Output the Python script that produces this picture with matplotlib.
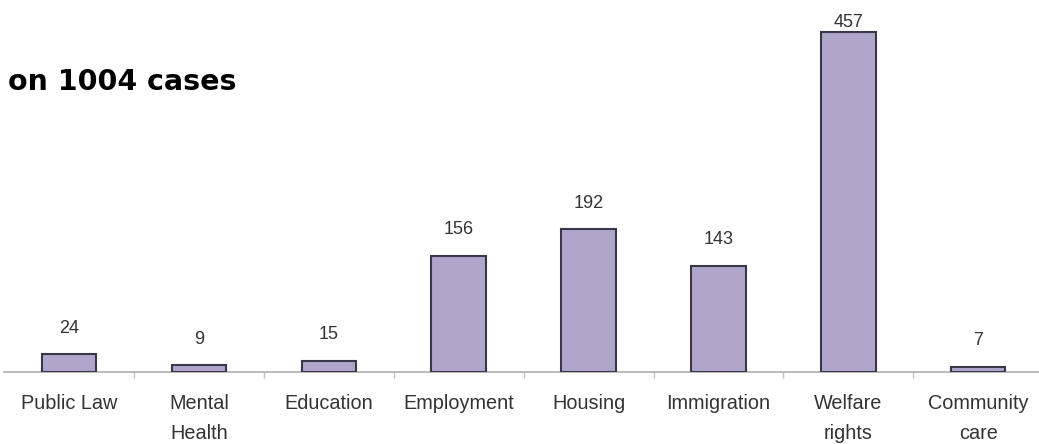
import matplotlib
matplotlib.use("Agg")
import matplotlib.pyplot as plt
import numpy as np

categories = ["Public Law", "Mental\nHealth", "Education", "Employment", "Housing",
              "Immigration", "Welfare\nrights", "Community\ncare"]
values = [24, 9, 15, 156, 192, 143, 457, 7]
title = "on 1004 cases"

fig = plt.figure(figsize=(10.39, 4.44), dpi=100)
ax = fig.add_axes([0.004, 0.162, 1.0, 0.838])
x = np.arange(len(categories))
ax.bar(x, values, width=0.42, color="#b0a6cc", edgecolor="#3a3848", linewidth=1.5, zorder=3)
for xi, v in zip(x, values):
    ax.text(xi, min(v + 35, 470), str(v), ha="center", va="center", fontsize=13,
            family="Liberation Sans", color="#333333")
ax.set_xlim(-0.5, 7.5)
ax.set_ylim(0, 500)
for s in ["top", "right", "left"]:
    ax.spines[s].set_visible(False)
ax.spines["bottom"].set_color("#b0b0b0")
ax.spines["bottom"].set_linewidth(1.2)
ax.set_yticks([])
ax.set_xticks(np.arange(0.5, 7.5, 1.0))
ax.set_xticklabels([])
ax.tick_params(axis="x", length=4, color="#c0c0c0", width=1)
ax.set_xticks(x, minor=True)
ax.set_xticklabels(categories, minor=True, fontsize=14.3, family="Liberation Sans",
                   color="#333333", linespacing=1.78)
ax.tick_params(axis="x", which="minor", length=0, pad=15.5)
fig.text(0.008, 0.815, title, fontsize=20.5, fontweight="bold", family="DejaVu Sans",
         ha="left", va="center", color="black")
fig.savefig("out.png", dpi=100)
